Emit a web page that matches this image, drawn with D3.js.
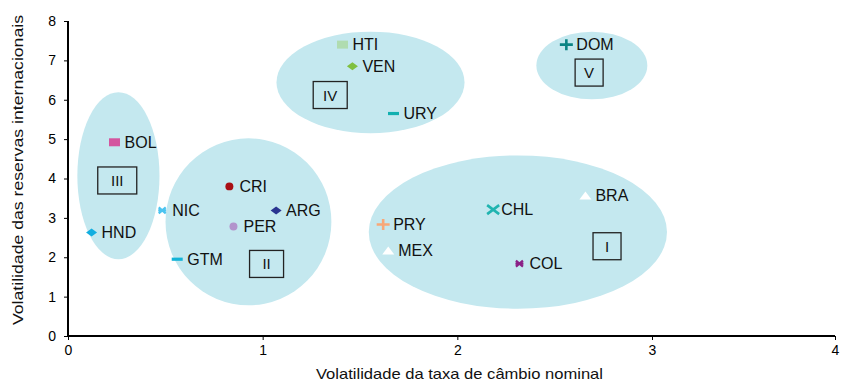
<!DOCTYPE html>
<html>
<head>
<meta charset="utf-8">
<script src="https://cdn.jsdelivr.net/npm/d3@7"></script>
<style>
body { margin: 0; background: #fff; }
text { font-family: "Liberation Sans", Arial, sans-serif; }
</style>
</head>
<body>
<div id="chart-area"></div>
<script>
// country data
var countries = ["BOL","HND","NIC","GTM","CRI","PER","ARG","HTI","VEN","URY","DOM","PRY","MEX","CHL","COL","BRA"];
var xVals = [0.239, 0.121, 0.484, 0.561, 0.829, 0.850, 1.069, 1.410, 1.461, 1.672, 2.560, 1.619, 1.645, 2.184, 2.319, 2.658];
var yVals = [4.92, 2.63, 3.19, 1.95, 3.80, 2.78, 3.19, 7.40, 6.85, 5.65, 7.40, 2.83, 2.17, 3.21, 1.84, 3.57];
var markers = ["square","diamond","star","dash","circle","circle","diamond","square","diamond","dash","plus","plus","triangle","cross","star","triangle"];
var colors = ["#d4559f","#12aee0","#4cc4f0","#14b4d8","#a80f14","#b294cc","#2a3490","#b0dcb0","#80c040","#12b0b0","#0a8484","#f8a878","#ffffff","#20b4b0","#8a2086","#ffffff"];

// groups (ellipses) and their roman labels
var groups = ["I","II","III","IV","V"];
var groupCx = [2.311, 0.927, 0.259, 1.554, 2.691];
var groupCy = [2.64, 2.90, 4.07, 6.44, 6.87];
var groupRx = [0.766, 0.426, 0.211, 0.483, 0.285];
var groupRy = [1.947, 2.12, 2.12, 1.29, 0.86];
var boxX = [2.769, 1.020, 0.253, 1.347, 2.677];
var boxY = [2.28, 1.83, 3.95, 6.12, 6.69];

var xTicks = [0, 1, 2, 3, 4];
var yTicks = [0, 1, 2, 3, 4, 5, 6, 7, 8];

var margin = {left:68, right:6, top:21, bottom:45};
var width = 841 - margin.left - margin.right;
var height = 381 - margin.top - margin.bottom;

var svg = d3.select("#chart-area")
	.append("svg")
		.attr("width", 841)
		.attr("height", 381);

var g = svg.append("g")
	.attr("transform","translate("+margin.left+","+margin.top+")");

// last interval of the original axis is a bit shorter than the others
var x = d3.scaleLinear().domain([0,3,4]).range([0,584,767]);
var y = d3.scaleLinear().domain([0,8]).range([height,0]);

// ellipses
g.selectAll("ellipse")
	.data(groups)
	.enter()
	.append("ellipse")
		.attr("cx", function(d,i){ return x(groupCx[i]); })
		.attr("cy", function(d,i){ return y(groupCy[i]); })
		.attr("rx", function(d,i){ return x(groupRx[i]) - x(0); })
		.attr("ry", function(d,i){ return y(0) - y(groupRy[i]); })
		.attr("fill","#c4e8ef");

// roman boxes
function boxW(d){ return d.length == 1 ? 28 : (d.length == 2 ? 34 : 39); }
var boxes = g.selectAll(".gbox")
	.data(groups)
	.enter()
	.append("g")
		.attr("class","gbox")
		.attr("transform", function(d,i){ return "translate("+x(boxX[i])+","+y(boxY[i])+")"; });

boxes.append("rect")
	.attr("x", function(d){ return -boxW(d)/2; })
	.attr("y", -13.5)
	.attr("width", boxW)
	.attr("height", 27)
	.attr("fill","none")
	.attr("stroke","#222")
	.attr("stroke-width",1.3);

boxes.append("text")
	.attr("text-anchor","middle")
	.attr("y", 5.5)
	.attr("font-size","15px")
	.attr("fill","#111")
	.text(function(d){ return d; });

// axes
var xAxisCall = d3.axisBottom(x).tickValues(xTicks).tickSize(4).tickFormat(d3.format("d"));
var xAx = g.append("g")
	.attr("transform","translate(0,"+height+")")
	.call(xAxisCall);
xAx.select(".domain").attr("stroke","#000").attr("stroke-width",2).attr("d","M0,0H767");
xAx.selectAll(".tick line").attr("stroke","#000");
xAx.selectAll("text").attr("font-size","14px").attr("fill","#000").attr("dy","0.85em");

var yAxisCall = d3.axisLeft(y).tickValues(yTicks).tickSize(4).tickFormat(d3.format("d"));
var yAx = g.append("g").call(yAxisCall);
yAx.select(".domain").attr("stroke","#000").attr("stroke-width",2).attr("d","M0,0V"+height);
yAx.selectAll(".tick line").attr("stroke","#000");
yAx.selectAll("text").attr("font-size","14px").attr("fill","#000").attr("x",-12);

// axis titles
g.append("text")
	.attr("x", 459.5 - margin.left)
	.attr("y", height + 43)
	.attr("text-anchor","middle")
	.attr("font-size","15px")
	.attr("textLength", 287)
	.attr("lengthAdjust","spacingAndGlyphs")
	.attr("fill","#111")
	.text("Volatilidade da taxa de câmbio nominal");

g.append("text")
	.attr("transform","rotate(-90)")
	.attr("x", -(170 - margin.top))
	.attr("y", -45)
	.attr("text-anchor","middle")
	.attr("font-size","15px")
	.attr("textLength", 310)
	.attr("lengthAdjust","spacingAndGlyphs")
	.attr("fill","#111")
	.text("Volatilidade das reservas internacionais");

// markers
function markerPath(type){
	if(type == "square") return "M-5.5,-4H5.5V4H-5.5Z";
	if(type == "diamond") return "M-5.5,0L0,-4L5.5,0L0,4Z";
	if(type == "circle") return d3.symbol().type(d3.symbolCircle).size(50)();
	if(type == "triangle") return "M-6,4L0,-4L6,4Z";
	if(type == "dash") return "M-5.5,-1.6H5.5V1.6H-5.5Z";
	return null;
}

var pts = g.selectAll(".pt")
	.data(countries)
	.enter()
	.append("g")
		.attr("class","pt")
		.attr("transform", function(d,i){ return "translate("+x(xVals[i])+","+y(yVals[i])+")"; });

pts.each(function(d,i){
	var m = markers[i];
	var s = d3.select(this);
	if(m == "plus"){
		s.append("path").attr("d","M-6.5,0H6.5M0,-5.5V5.5").attr("stroke",colors[i]).attr("stroke-width",2.6);
	} else if(m == "cross"){
		s.append("path").attr("d","M-6,-4.5L6,4.5M-6,4.5L6,-4.5").attr("stroke",colors[i]).attr("stroke-width",2.6);
	} else if(m == "star"){
		s.append("path").attr("d","M-3.5,-3L3.5,3M-3.5,3L3.5,-3M-4,0H4").attr("stroke",colors[i]).attr("stroke-width",2.2);
	} else {
		s.append("path").attr("d", markerPath(m)).attr("fill",colors[i]);
	}
});

pts.append("text")
	.attr("x", function(d,i){ return markers[i] == "cross" ? 8 : 10; })
	.attr("y", 5.5)
	.attr("font-size","16px")
	.attr("fill","#111")
	.text(function(d){ return d; });
</script>
</body>
</html>
